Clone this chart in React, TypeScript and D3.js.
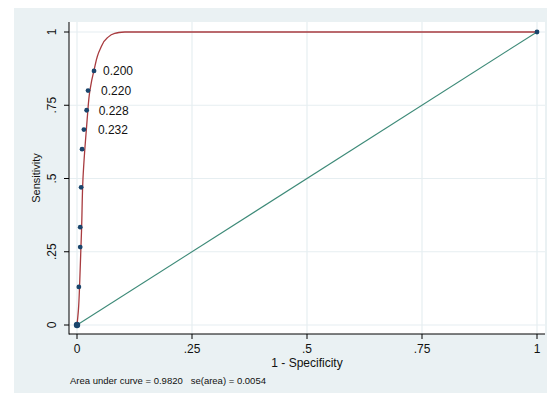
import React from 'react';
import * as d3 from 'd3';

// observed ROC points (1 - specificity, sensitivity)
const rocX = [0, 0.004, 0.007, 0.007, 0.009, 0.011, 0.015, 0.021, 0.024, 0.037, 1];
const rocY = [0, 0.13, 0.266, 0.334, 0.47, 0.6, 0.667, 0.733, 0.8, 0.867, 1];

// fitted smooth curve
const fitX = [0, 0.003, 0.006, 0.01, 0.013, 0.017, 0.022, 0.028, 0.037, 0.05, 0.066, 0.082, 0.104, 1];
const fitY = [0, 0.05, 0.15, 0.33, 0.5, 0.6, 0.7, 0.8, 0.87, 0.94, 0.98, 0.995, 1, 1];

const cutLabels = ['0.200', '0.220', '0.228', '0.232'];
const cutIndex = [9, 8, 7, 6];

const tickVals = [0, 0.25, 0.5, 0.75, 1];
const tickText = ['0', '.25', '.5', '.75', '1'];

const App = () => {
  const W = 555, H = 398;
  const x = d3.scaleLinear().domain([0, 1]).range([77, 537]);
  const y = d3.scaleLinear().domain([0, 1]).range([325, 32]);
  const left = 69, right = 545, top = 22, bottom = 334;
  const labelGap = [9, 13, 12, 14];

  const fitLine = d3.line<number>()
    .x((d, i) => x(fitX[i]))
    .y((d, i) => y(fitY[i]))
    .curve(d3.curveMonotoneY);

  const font = 'Liberation Sans, Arial, sans-serif';

  return (
    <svg width={W} height={H} style={{position: 'absolute', left: 0, top: 0}}>
      <rect x={0} y={0} width={W} height={H} fill="#ffffff" />
      <rect x={14} y={8} width={533} height={385} fill="#eaf1f3" />
      <rect x={left} y={top} width={right - left} height={bottom - top} fill="#ffffff" />
      {/* grid */}
      {tickVals.map((v, i) => (
        <g key={'g' + i}>
          <line x1={left} x2={right} y1={y(v)} y2={y(v)} stroke="#e6eef1" strokeWidth={1.2} />
          <line x1={x(v)} x2={x(v)} y1={top} y2={bottom} stroke="#e6eef1" strokeWidth={1.2} />
        </g>
      ))}
      {/* diagonal */}
      <line x1={x(0)} y1={y(0)} x2={x(1)} y2={y(1)} stroke="#3d8a78" strokeWidth={1.1} />
      {/* fitted curve */}
      <path d={fitLine(fitX) || ''} fill="none" stroke="#a83b3f" strokeWidth={1.3} />
      {/* points */}
      {rocX.map((v, i) => (
        <circle key={'p' + i} cx={x(v)} cy={y(rocY[i])} r={i === 0 ? 3.2 : 2.4} fill="#1a456c" />
      ))}
      {cutLabels.map((t, i) => (
        <text key={'c' + i} x={x(rocX[cutIndex[i]]) + labelGap[i]} y={y(rocY[cutIndex[i]]) + 4.5}
          fontFamily={font} fontSize={12} fill="#111">{t}</text>
      ))}
      {/* axes */}
      <line x1={left} x2={left} y1={top} y2={bottom + 0.5} stroke="#000" strokeWidth={1} />
      <line x1={left} x2={right} y1={bottom} y2={bottom} stroke="#000" strokeWidth={1} />
      {tickVals.map((v, i) => (
        <g key={'t' + i}>
          <line x1={left - 5} x2={left} y1={y(v)} y2={y(v)} stroke="#000" />
          <text transform={`translate(56,${y(v)}) rotate(-90)`} textAnchor="middle"
            fontFamily={font} fontSize={12} fill="#111">{tickText[i]}</text>
          <line x1={x(v)} x2={x(v)} y1={bottom} y2={bottom + 5} stroke="#000" />
          <text x={x(v)} y={bottom + 19} textAnchor="middle"
            fontFamily={font} fontSize={12} fill="#111">{tickText[i]}</text>
        </g>
      ))}
      <text x={307} y={367} textAnchor="middle" fontFamily={font} fontSize={12} fill="#111">1 - Specificity</text>
      <text transform="translate(40,178) rotate(-90)" textAnchor="middle"
        fontFamily={font} fontSize={11} fill="#111">Sensitivity</text>
      <text x={70} y={384} fontFamily={font} fontSize={9.5} fill="#111">
        Area under curve = 0.9820{'\u00a0\u00a0\u00a0'}se(area) = 0.0054
      </text>
    </svg>
  );
};

export default App;
